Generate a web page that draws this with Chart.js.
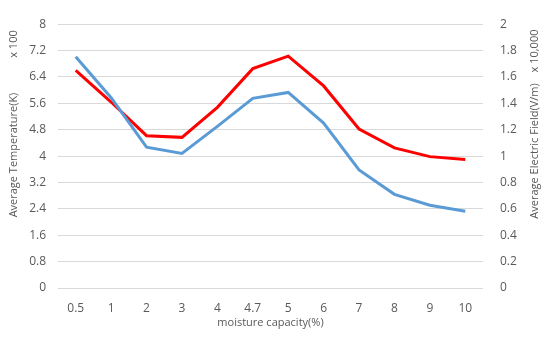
<!DOCTYPE html>
<html>
<head>
<meta charset="utf-8">
<script src="https://cdn.jsdelivr.net/npm/chart.js@4"></script>
<style>
  html, body { margin: 0; padding: 0; background: #fff; }
  #wrap { width: 550px; height: 338px; }
</style>
</head>
<body>
<div id="wrap"><canvas id="moistureChart"></canvas></div>
<script>
const categories = ['0.5', '1', '2', '3', '4', '4.7', '5', '6', '7', '8', '9', '10'];
// left axis, x 100 K
const temperature = [7.01, 5.77, 4.27, 4.08, 4.9, 5.75, 5.93, 5.0, 3.58, 2.84, 2.51, 2.33];
// right axis, x 10,000 V/m
const electricField = [1.65, 1.41, 1.155, 1.142, 1.37, 1.663, 1.758, 1.532, 1.205, 1.062, 0.996, 0.974];
const leftTicks = [0, 0.8, 1.6, 2.4, 3.2, 4, 4.8, 5.6, 6.4, 7.2, 8];
const rightTicks = [0, 0.2, 0.4, 0.6, 0.8, 1, 1.2, 1.4, 1.6, 1.8, 2];

const grey = '#595959';
const fontFamily = "'Open Sans', sans-serif";

function vText(c, text, x, y) {
    c.save();
    c.translate(x, y);
    c.rotate(-Math.PI / 2);
    c.fillText(text, 0, 0);
    c.restore();
}

// axis titles and Excel-style display unit labels
const axisLabels = {
    id: 'axisLabels',
    afterDraw(chart) {
        const c = chart.ctx;
        c.save();
        c.fillStyle = grey;
        c.font = '11px ' + fontFamily;
        c.textAlign = 'center';
        c.textBaseline = 'middle';
        vText(c, 'Average Temperature(K)', 14, 155);
        vText(c, 'x 100', 14, 44);
        vText(c, 'Average Electric Field(V/m)', 535, 151);
        vText(c, 'x 10,000', 535, 51);
        c.restore();
    }
};

function fmt(v) { return String(Math.round(v * 10) / 10); }

document.addEventListener("DOMContentLoaded", function() {
    const ctx = document.getElementById('moistureChart').getContext('2d');
    new Chart(ctx, {
        type: 'line',
        data: {
            labels: categories,
            datasets: [{
                label: 'Average Temperature(K)',
                data: temperature,
                borderColor: '#5b9bd5',
                borderWidth: 3,
                pointRadius: 0,
                fill: false,
                yAxisID: 'y'
            }, {
                label: 'Average Electric Field(V/m)',
                data: electricField,
                borderColor: '#ff0000',
                borderWidth: 3,
                pointRadius: 0,
                fill: false,
                yAxisID: 'y1'
            }]
        },
        options: {
            responsive: true,
            maintainAspectRatio: false,
            animation: false,
            layout: { padding: { top: 17, left: 0, right: 0, bottom: 9 } },
            plugins: {
                legend: { display: false },
                tooltip: { enabled: false }
            },
            scales: {
                x: {
                    offset: true,
                    afterFit: function(axis) { axis.height = 41; },
                    grid: { display: false },
                    border: { display: false },
                    ticks: { color: grey, font: { size: 12, family: fontFamily }, maxRotation: 0, padding: 5 },
                    title: { display: true, text: 'moisture capacity(%)', color: grey, font: { size: 11, family: fontFamily }, padding: 0 }
                },
                y: {
                    position: 'left',
                    min: 0,
                    max: 8,
                    afterBuildTicks: function(axis) { axis.ticks = leftTicks.map(v => ({ value: v })); },
                    afterFit: function(axis) { axis.width = 58; },
                    grid: { color: '#d9d9d9', drawTicks: false },
                    border: { display: false },
                    ticks: { color: grey, font: { size: 12, family: fontFamily }, padding: 12, callback: fmt }
                },
                y1: {
                    position: 'right',
                    min: 0,
                    max: 2,
                    afterBuildTicks: function(axis) { axis.ticks = rightTicks.map(v => ({ value: v })); },
                    afterFit: function(axis) { axis.width = 67; },
                    grid: { display: false, drawTicks: false },
                    border: { display: false },
                    ticks: { color: grey, font: { size: 12, family: fontFamily }, padding: 17, callback: fmt }
                }
            }
        },
        plugins: [axisLabels]
    });
});
</script>
</body>
</html>
